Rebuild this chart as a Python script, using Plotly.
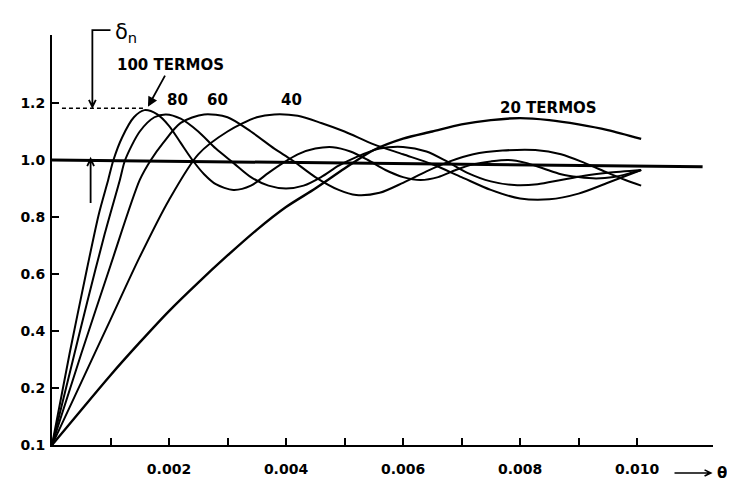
import math
import plotly.graph_objects as go

# ---- data (theta in seconds, partial-sum values) ----
theta_20 = [0, 0.0005, 0.001, 0.0015, 0.002, 0.0025, 0.003, 0.0035, 0.004, 0.0045,
            0.005, 0.0055, 0.006, 0.0065, 0.007, 0.0075, 0.008, 0.0085, 0.009, 0.0095, 0.01007]
vals_20 = [0, 0.123, 0.245, 0.36, 0.47, 0.57, 0.665, 0.755, 0.835, 0.90,
           0.97, 1.035, 1.075, 1.10, 1.125, 1.14, 1.147, 1.14, 1.125, 1.105, 1.074]

theta_40 = [0, 0.0005, 0.001, 0.0015, 0.002, 0.0025, 0.003, 0.0035, 0.0038, 0.0042,
            0.0046, 0.005, 0.0055, 0.006, 0.0065, 0.007, 0.0075, 0.008, 0.0085, 0.009,
            0.0095, 0.01007]
vals_40 = [0, 0.22, 0.44, 0.66, 0.86, 1.02, 1.10, 1.15, 1.16, 1.155,
           1.13, 1.10, 1.055, 1.02, 0.985, 0.94, 0.895, 0.865, 0.862, 0.882,
           0.92, 0.965]

theta_60 = [0, 0.0005, 0.001, 0.0015, 0.00169, 0.0019, 0.0022, 0.0026, 0.003, 0.0034,
            0.0038, 0.0041, 0.0045, 0.0049, 0.0052, 0.0056, 0.006, 0.0064, 0.0068,
            0.0072, 0.0077, 0.00826, 0.0087, 0.0091, 0.0095, 0.0098, 0.01007]
vals_60 = [0, 0.32, 0.63, 0.93, 1.0, 1.06, 1.13, 1.16, 1.15, 1.10,
           1.04, 1.0, 0.94, 0.895, 0.877, 0.885, 0.92, 0.96, 0.995,
           1.02, 1.033, 1.035, 1.02, 0.99, 0.955, 0.93, 0.91]

theta_80 = [0, 0.0003, 0.0006, 0.0009, 0.00116, 0.00125, 0.0015, 0.00175, 0.00195,
            0.0022, 0.0025, 0.0028, 0.0031, 0.0034, 0.0037, 0.004, 0.0043, 0.0046,
            0.0049, 0.0052, 0.0056, 0.006, 0.0064, 0.00675, 0.0071, 0.0075, 0.0079,
            0.0083, 0.0087, 0.0091, 0.0095, 0.01007]
vals_80 = [0, 0.25, 0.50, 0.74, 0.93, 1.0, 1.10, 1.15, 1.16,
           1.145, 1.10, 1.04, 0.99, 0.94, 0.91, 0.90, 0.91, 0.94,
           0.98, 1.01, 1.04, 1.046, 1.03, 0.995, 0.955, 0.925, 0.912,
           0.915, 0.93, 0.945, 0.955, 0.965]

theta_100 = [0, 0.0003, 0.0006, 0.0008, 0.00096, 0.00105, 0.0012, 0.0014, 0.00158,
             0.0018, 0.002, 0.0022, 0.0024, 0.0026, 0.0028, 0.0031, 0.0034, 0.0037,
             0.00395, 0.0042, 0.0045, 0.0048, 0.0051, 0.0054, 0.0057, 0.006, 0.0063,
             0.0066, 0.0069, 0.0072, 0.0075, 0.0078, 0.0081, 0.0084, 0.0087, 0.009,
             0.0093, 0.0096, 0.0099, 0.01007]
vals_100 = [0, 0.32, 0.62, 0.81, 0.93, 1.0, 1.08, 1.15, 1.175,
            1.16, 1.12, 1.06, 1.0, 0.95, 0.915, 0.895, 0.91, 0.955,
            0.99, 1.02, 1.04, 1.045, 1.03, 1.0, 0.965, 0.94, 0.93,
            0.94, 0.965, 0.985, 0.995, 1.0, 0.99, 0.97, 0.95, 0.94,
            0.935, 0.94, 0.955, 0.965]

unit_x = [0, 0.01112]
unit_y = [1.0, 0.976]

x_tick_vals = [0.002, 0.004, 0.006, 0.008, 0.010]
x_tick_text = ["0.002", "0.004", "0.006", "0.008", "0.010"]
x_minor_vals = [0.001, 0.003, 0.005, 0.007, 0.009]
y_tick_vals = [0, 0.2, 0.4, 0.6, 0.8, 1.0, 1.2]
y_tick_text = ["0.1", "0.2", "0.4", "0.6", "0.8", "1.0", "1.2"]

overshoot = 1.182      # delta_n level
overshoot_x = 0.00158  # where the 100-term peak is

X_MAX = 0.011298
Y_MAX = 1.4386
PLOT_W, PLOT_H = 670, 410
M_L, M_T = 35, 27
FONT = "DejaVu Sans"

fig = go.Figure()
for xs, ys, w in [(theta_20, vals_20, 2.4), (theta_40, vals_40, 2),
                  (theta_60, vals_60, 2), (theta_80, vals_80, 2),
                  (theta_100, vals_100, 2)]:
    fig.add_trace(go.Scatter(x=xs, y=ys, mode="lines",
                             line=dict(color="black", width=w, shape="spline", smoothing=0.8),
                             hoverinfo="skip", showlegend=False))

fig.add_trace(go.Scatter(x=unit_x, y=unit_y, mode="lines",
                         line=dict(color="black", width=3),
                         hoverinfo="skip", showlegend=False))
fig.add_trace(go.Scatter(x=[0.00017, overshoot_x], y=[overshoot, overshoot], mode="lines",
                         line=dict(color="black", width=1.5, dash="4px,3px"),
                         hoverinfo="skip", showlegend=False))


def pp(xd, yd):
    """data -> paper"""
    return xd / X_MAX, yd / Y_MAX


def arrow_path(points, head=8, spread=0.45):
    """polyline through data points, open V arrowhead at the last point (paper coords)."""
    pts = [pp(x, y) for x, y in points]
    d = "M %f %f" % pts[0]
    for p in pts[1:]:
        d += " L %f %f" % p
    (xa, ya), (xb, yb) = pts[-2], pts[-1]
    dxp, dyp = (xb - xa) * PLOT_W, (yb - ya) * PLOT_H
    ang = math.atan2(dyp, dxp)
    h1 = (xb - head * math.cos(ang - spread) / PLOT_W, yb - head * math.sin(ang - spread) / PLOT_H)
    h2 = (xb - head * math.cos(ang + spread) / PLOT_W, yb - head * math.sin(ang + spread) / PLOT_H)
    d += " M %f %f L %f %f L %f %f" % (h1[0], h1[1], xb, yb, h2[0], h2[1])
    return d


line_black = dict(color="black", width=1.8)
shapes = [
    dict(type="path", xref="paper", yref="paper", line=line_black,
         path=arrow_path([(0.00100, 1.456), (0.00069, 1.456), (0.00069, overshoot + 0.004)])),
    dict(type="path", xref="paper", yref="paper", line=line_black,
         path=arrow_path([(0.00066, 0.849), (0.00066, 1.004)])),
    dict(type="path", xref="paper", yref="paper", line=dict(color="black", width=1.6),
         path=arrow_path([(0.01064, -0.098), (0.01126, -0.098)], head=7)),
]

txt = dict(color="black", family=FONT, size=15, weight="bold")
annotations = [
    dict(x=0.00164, y=1.187, ax=0.00203, ay=1.333, axref="x", ayref="y",
         text="100 TERMOS", showarrow=True, arrowhead=2, arrowsize=1.1, arrowwidth=1.8,
         arrowcolor="black", standoff=0, font=txt),
    dict(x=0.00214, y=1.211, text="80", showarrow=False, font=txt),
    dict(x=0.00283, y=1.211, text="60", showarrow=False, font=txt),
    dict(x=0.00410, y=1.211, text="40", showarrow=False, font=txt),
    dict(x=0.00848, y=1.182, text="20 TERMOS", showarrow=False, font=txt),
    dict(x=pp(0.00104, 0)[0], y=pp(0, 1.452)[1], xref="paper", yref="paper",
         xanchor="left", yanchor="middle", yshift=-2,
         text="δ<sub>n</sub>", showarrow=False,
         font=dict(color="black", family=FONT, size=21)),
    dict(x=(714 - M_L) / PLOT_W, y=pp(0, -0.098)[1], xref="paper", yref="paper",
         xanchor="center", yanchor="middle", text="θ", showarrow=False, font=txt),
]

tick_common = dict(showgrid=False, zeroline=False, showline=True, linecolor="black",
                   linewidth=2, ticks="inside", ticklen=7, tickwidth=2, tickcolor="black")
tick_font = dict(family=FONT, size=14, color="black", weight="bold")

fig.update_layout(
    width=735, height=487,
    margin=dict(l=M_L, r=735 - M_L - PLOT_W, t=M_T, b=487 - M_T - PLOT_H),
    paper_bgcolor="white", plot_bgcolor="white",
    annotations=annotations, shapes=shapes,
    xaxis=dict(range=[0, X_MAX], tickvals=x_tick_vals, ticktext=x_tick_text,
               tickfont=tick_font, ticklabelstandoff=10,
               minor=dict(tickvals=x_minor_vals, ticks="inside", ticklen=7,
                          tickwidth=2, tickcolor="black", showgrid=False),
               **tick_common),
    yaxis=dict(range=[0, Y_MAX], tickvals=y_tick_vals, ticktext=y_tick_text,
               tickfont=tick_font, ticklabelstandoff=2, **tick_common),
)

fig.write_html("out.html")
